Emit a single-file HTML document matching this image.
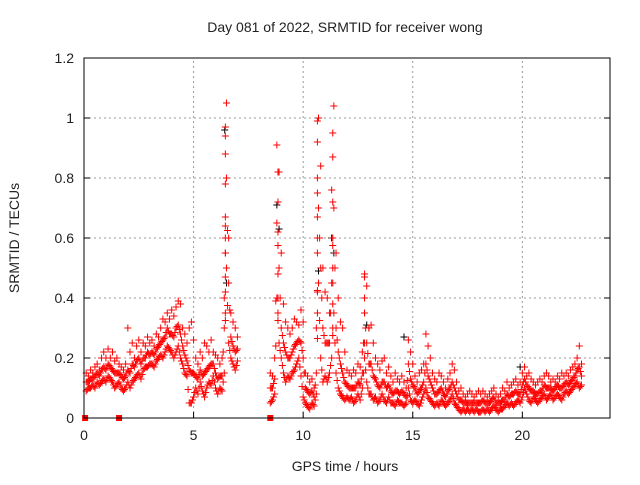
<!DOCTYPE html>
<html><head><meta charset="utf-8"><style>
body{margin:0;background:#fff}
svg text{font-family:"Liberation Sans",sans-serif;font-size:14px;fill:#222}
</style></head><body>
<svg id="chart" width="640" height="480" viewBox="0 0 640 480" xmlns="http://www.w3.org/2000/svg">
<text x="345" y="32" text-anchor="middle">Day 081 of 2022, SRMTID for receiver wong</text>
<text x="345" y="471" text-anchor="middle">GPS time / hours</text>
<text transform="translate(19,238) rotate(-90)" text-anchor="middle">SRMTID / TECUs</text>
<g id="grid"></g><g id="marks"></g>
<rect x="84" y="58" width="526" height="360" fill="none" stroke="#000" stroke-width="1"/>
<g id="ticks"></g>
</svg>
<script>
const xTicks=[0,5,10,15,20];
const yTicks=[0,0.2,0.4,0.6,0.8,1,1.2];
const yTickLabels=["0","0.2","0.4","0.6","0.8","1","1.2"];
const bandStart=0.1, bandStep=0.1;
const bandHigh=[.15,.14,.16,.15,.17,.18,.16,.2,.22,.2,
.23,.2,.22,.19,.2,.18,.17,.16,.18,.3,
.22,.25,.2,.24,.26,.22,.25,.24,.27,.25,
.26,.24,.28,.27,.3,.33,.32,.35,.33,.36,
.34,.37,.39,.38,.3,.28,.25,.3,.32,.26,
.2,.18,.22,.2,.25,.24,.22,.26,.22,.21,
.2,.18,.2,.4,1.05,.6,.35,.32,.3,.27,
null,null,null,null,null,null,null,null,null,null,
null,null,null,null,.15,.14,.2,.91,.82,.55,
.38,.32,.3,.28,.3,.33,.32,.31,.36,.32,
.15,.14,.12,.13,.1,.3,1.0,.84,.5,.42,
.4,.35,.76,1.04,.55,.4,.32,.3,.22,.16,
.15,.14,.16,.15,.18,.17,.22,.48,.44,.3,
.31,.25,.2,.18,.16,.19,.2,.15,.17,.14,
.12,.15,.13,.12,.14,.12,.1,.26,.22,.18,
.14,.12,.15,.16,.18,.28,.24,.2,.15,.13,
.12,.15,.14,.12,.1,.13,.15,.18,.16,.12,
.09,.1,.08,.07,.08,.09,.08,.07,.08,.09,
.08,.09,.08,.07,.08,.09,.1,.08,.07,.08,
.1,.09,.12,.1,.11,.12,.13,.11,.12,.15,
.17,.14,.15,.13,.12,.11,.12,.13,.12,.14,
.15,.14,.12,.13,.12,.14,.13,.15,.14,.15,
.14,.16,.17,.18,.2,.24,.18];
const bandLow=[.09,.1,.1,.11,.1,.12,.11,.12,.13,.12,
.14,.13,.12,.1,.11,.12,.1,.09,.1,.12,
.1,.12,.13,.14,.15,.13,.16,.17,.17,.18,
.18,.17,.19,.2,.21,.2,.22,.24,.23,.22,
.2,.22,.24,.2,.18,.15,.14,.05,.05,.07,
.1,.08,.12,.09,.07,.1,.12,.11,.14,.1,
.08,.1,.09,.15,.5,.25,.2,.18,.16,.19,
null,null,null,null,null,null,null,null,null,null,
null,null,null,null,.05,.06,.08,.4,.25,.2,
.15,.12,.14,.13,.15,.16,.18,.2,.14,.07,
.05,.04,.03,.05,.04,.08,.45,.2,.12,.14,
.12,.15,.2,.35,.15,.1,.08,.07,.06,.07,
.06,.07,.05,.06,.08,.06,.1,.2,.12,.08,
.08,.06,.07,.05,.06,.08,.06,.05,.07,.05,
.05,.04,.06,.05,.05,.04,.05,.1,.06,.05,
.06,.05,.04,.06,.08,.1,.07,.06,.05,.04,
.05,.04,.06,.05,.04,.05,.06,.08,.05,.04,
.03,.02,.03,.02,.03,.02,.03,.02,.03,.02,
.02,.03,.02,.03,.02,.03,.04,.03,.02,.03,
.03,.04,.05,.04,.05,.04,.05,.06,.05,.07,
.1,.08,.06,.05,.07,.06,.05,.06,.07,.08,
.06,.07,.08,.06,.07,.08,.07,.06,.08,.09,
.08,.09,.1,.11,.12,.1,.11];
const bandMid=[.12,.12,.13,.13,.14,.15,.14,.16,.17,.16,
.18,.17,.16,.15,.15,.15,.14,.13,.14,.16,
.15,.18,.17,.19,.2,.18,.2,.2,.22,.21,
.22,.21,.23,.24,.25,.26,.27,.3,.28,.28,
.27,.3,.31,.28,.24,.21,.19,.16,.15,.15,
.14,.13,.16,.14,.15,.16,.17,.18,.18,.15,
.13,.14,.14,.3,.8,.45,.27,.24,.22,.23,
null,null,null,null,null,null,null,null,null,null,
null,null,null,null,.1,.1,.13,.65,.5,.3,
.25,.22,.2,.2,.22,.24,.25,.26,.25,.2,
.1,.09,.08,.09,.07,.15,.7,.5,.3,.25,
.25,.25,.45,.7,.3,.22,.18,.15,.12,.11,
.1,.1,.1,.1,.12,.11,.15,.35,.25,.18,
.18,.14,.13,.11,.1,.12,.12,.1,.11,.09,
.08,.09,.09,.08,.09,.08,.07,.18,.13,.11,
.1,.08,.09,.1,.12,.18,.14,.12,.1,.08,
.08,.09,.1,.08,.07,.09,.1,.12,.1,.08,
.06,.06,.05,.05,.05,.05,.05,.05,.05,.05,
.05,.06,.05,.05,.05,.06,.07,.05,.05,.05,
.06,.06,.08,.07,.08,.08,.09,.08,.08,.11,
.13,.11,.1,.09,.09,.08,.08,.09,.09,.11,
.1,.1,.1,.09,.1,.11,.1,.1,.11,.12,
.11,.12,.13,.14,.16,.17,.14];
const spikeTimes=[6.45,6.45,6.45,6.45,6.45,6.45,6.45,6.45,6.45,6.45,6.45,8.85,8.85,8.85,8.85,8.85,8.85,10.65,10.65,10.65,10.65,10.65,10.65,10.65,10.65,10.65,11.35,11.35,11.35,11.35,11.35,11.35,11.35,11.35,12.8,12.8,12.8,12.8];
const spikeValues=[.97,.94,.88,.78,.67,.64,.6,.55,.47,.42,.35,.82,.72,.62,.48,.4,.35,.99,.92,.8,.75,.67,.6,.55,.42,.35,.95,.87,.72,.6,.5,.45,.38,.3,.47,.4,.35,.25];
const blackTimes=[6.42,6.5,8.8,8.9,10.7,11.3,11.4,12.9,14.6,19.9,13.0];
const blackValues=[.96,.45,.71,.63,.49,.6,.55,.31,.27,.17,.3];
const zeroTimes=[0.05,1.6,8.5];
const zeroValues=[0,0,0];

const X0=84,X1=610,Y0=418,Y1=58;
const xs=t=>X0+t*(X1-X0)/24;
const ys=v=>Y0-v*(Y0-Y1)/1.2;
const NS="http://www.w3.org/2000/svg";
const grid=document.getElementById('grid'),ticks=document.getElementById('ticks'),marks=document.getElementById('marks');
function mk(tag,attrs,parent){const e=document.createElementNS(NS,tag);for(const k in attrs)e.setAttribute(k,attrs[k]);parent.appendChild(e);return e;}
xTicks.forEach(t=>{
  const x=xs(t);
  if(t>0){const g=mk('line',{x1:x,x2:x,y1:Y0,y2:Y1,stroke:'#999','stroke-dasharray':'2,3'},grid);
  
  }
  const tk=mk('line',{x1:x,x2:x,y1:Y0,y2:Y0-6,stroke:'#000'},ticks);
  
  
  const tx=mk('text',{x:x,y:Y0+22,'text-anchor':'middle'},ticks);tx.textContent=t;
  
  
});
yTicks.forEach((v,i)=>{
  const y=ys(v);
  if(v>0&&v<1.2){const g=mk('line',{x1:X0,x2:X1,y1:y,y2:y,stroke:'#999','stroke-dasharray':'2,3'},grid);
  
  }
  const tk=mk('line',{x1:X0,x2:X0+6,y1:y,y2:y,stroke:'#000'},ticks);
  
  
  const tk2=mk('line',{x1:X1,x2:X1-6,y1:y,y2:y,stroke:'#000'},ticks);
  
  
  const tx=mk('text',{x:X0-10,y:y+5,'text-anchor':'end'},ticks);tx.textContent=yTickLabels[i];
  
  
});
function cross(t,v,col){
  const x=xs(t),y=ys(v);
  const p=mk('path',{d:`M${x-3.5},${y}H${x+3.5}M${x},${y-3.5}V${y+3.5}`,stroke:col,'stroke-width':1,fill:'none'},marks);
  
  
}
blackTimes.forEach((t,i)=>cross(t,blackValues[i],'#000'));
[bandLow,bandMid,bandHigh].forEach(arr=>arr.forEach((v,i)=>{if(v!==null)cross(bandStart+i*bandStep,v,'#f00');}));
[bandLow,bandMid].forEach(arr=>arr.forEach((v,i)=>{if(v!==null&&arr[i+1]!=null&&arr[i+1]!==undefined)cross(bandStart+(i+0.5)*bandStep,(v+arr[i+1])/2,'#f00');}));
spikeTimes.forEach((t,i)=>cross(t,spikeValues[i],'#f00'));
zeroTimes.forEach((t,i)=>{
  const r=mk('rect',{x:xs(t)-3,y:ys(zeroValues[i])-3,width:6,height:6,fill:'#f00'},marks);
  
  
});
</script>
</body></html>
